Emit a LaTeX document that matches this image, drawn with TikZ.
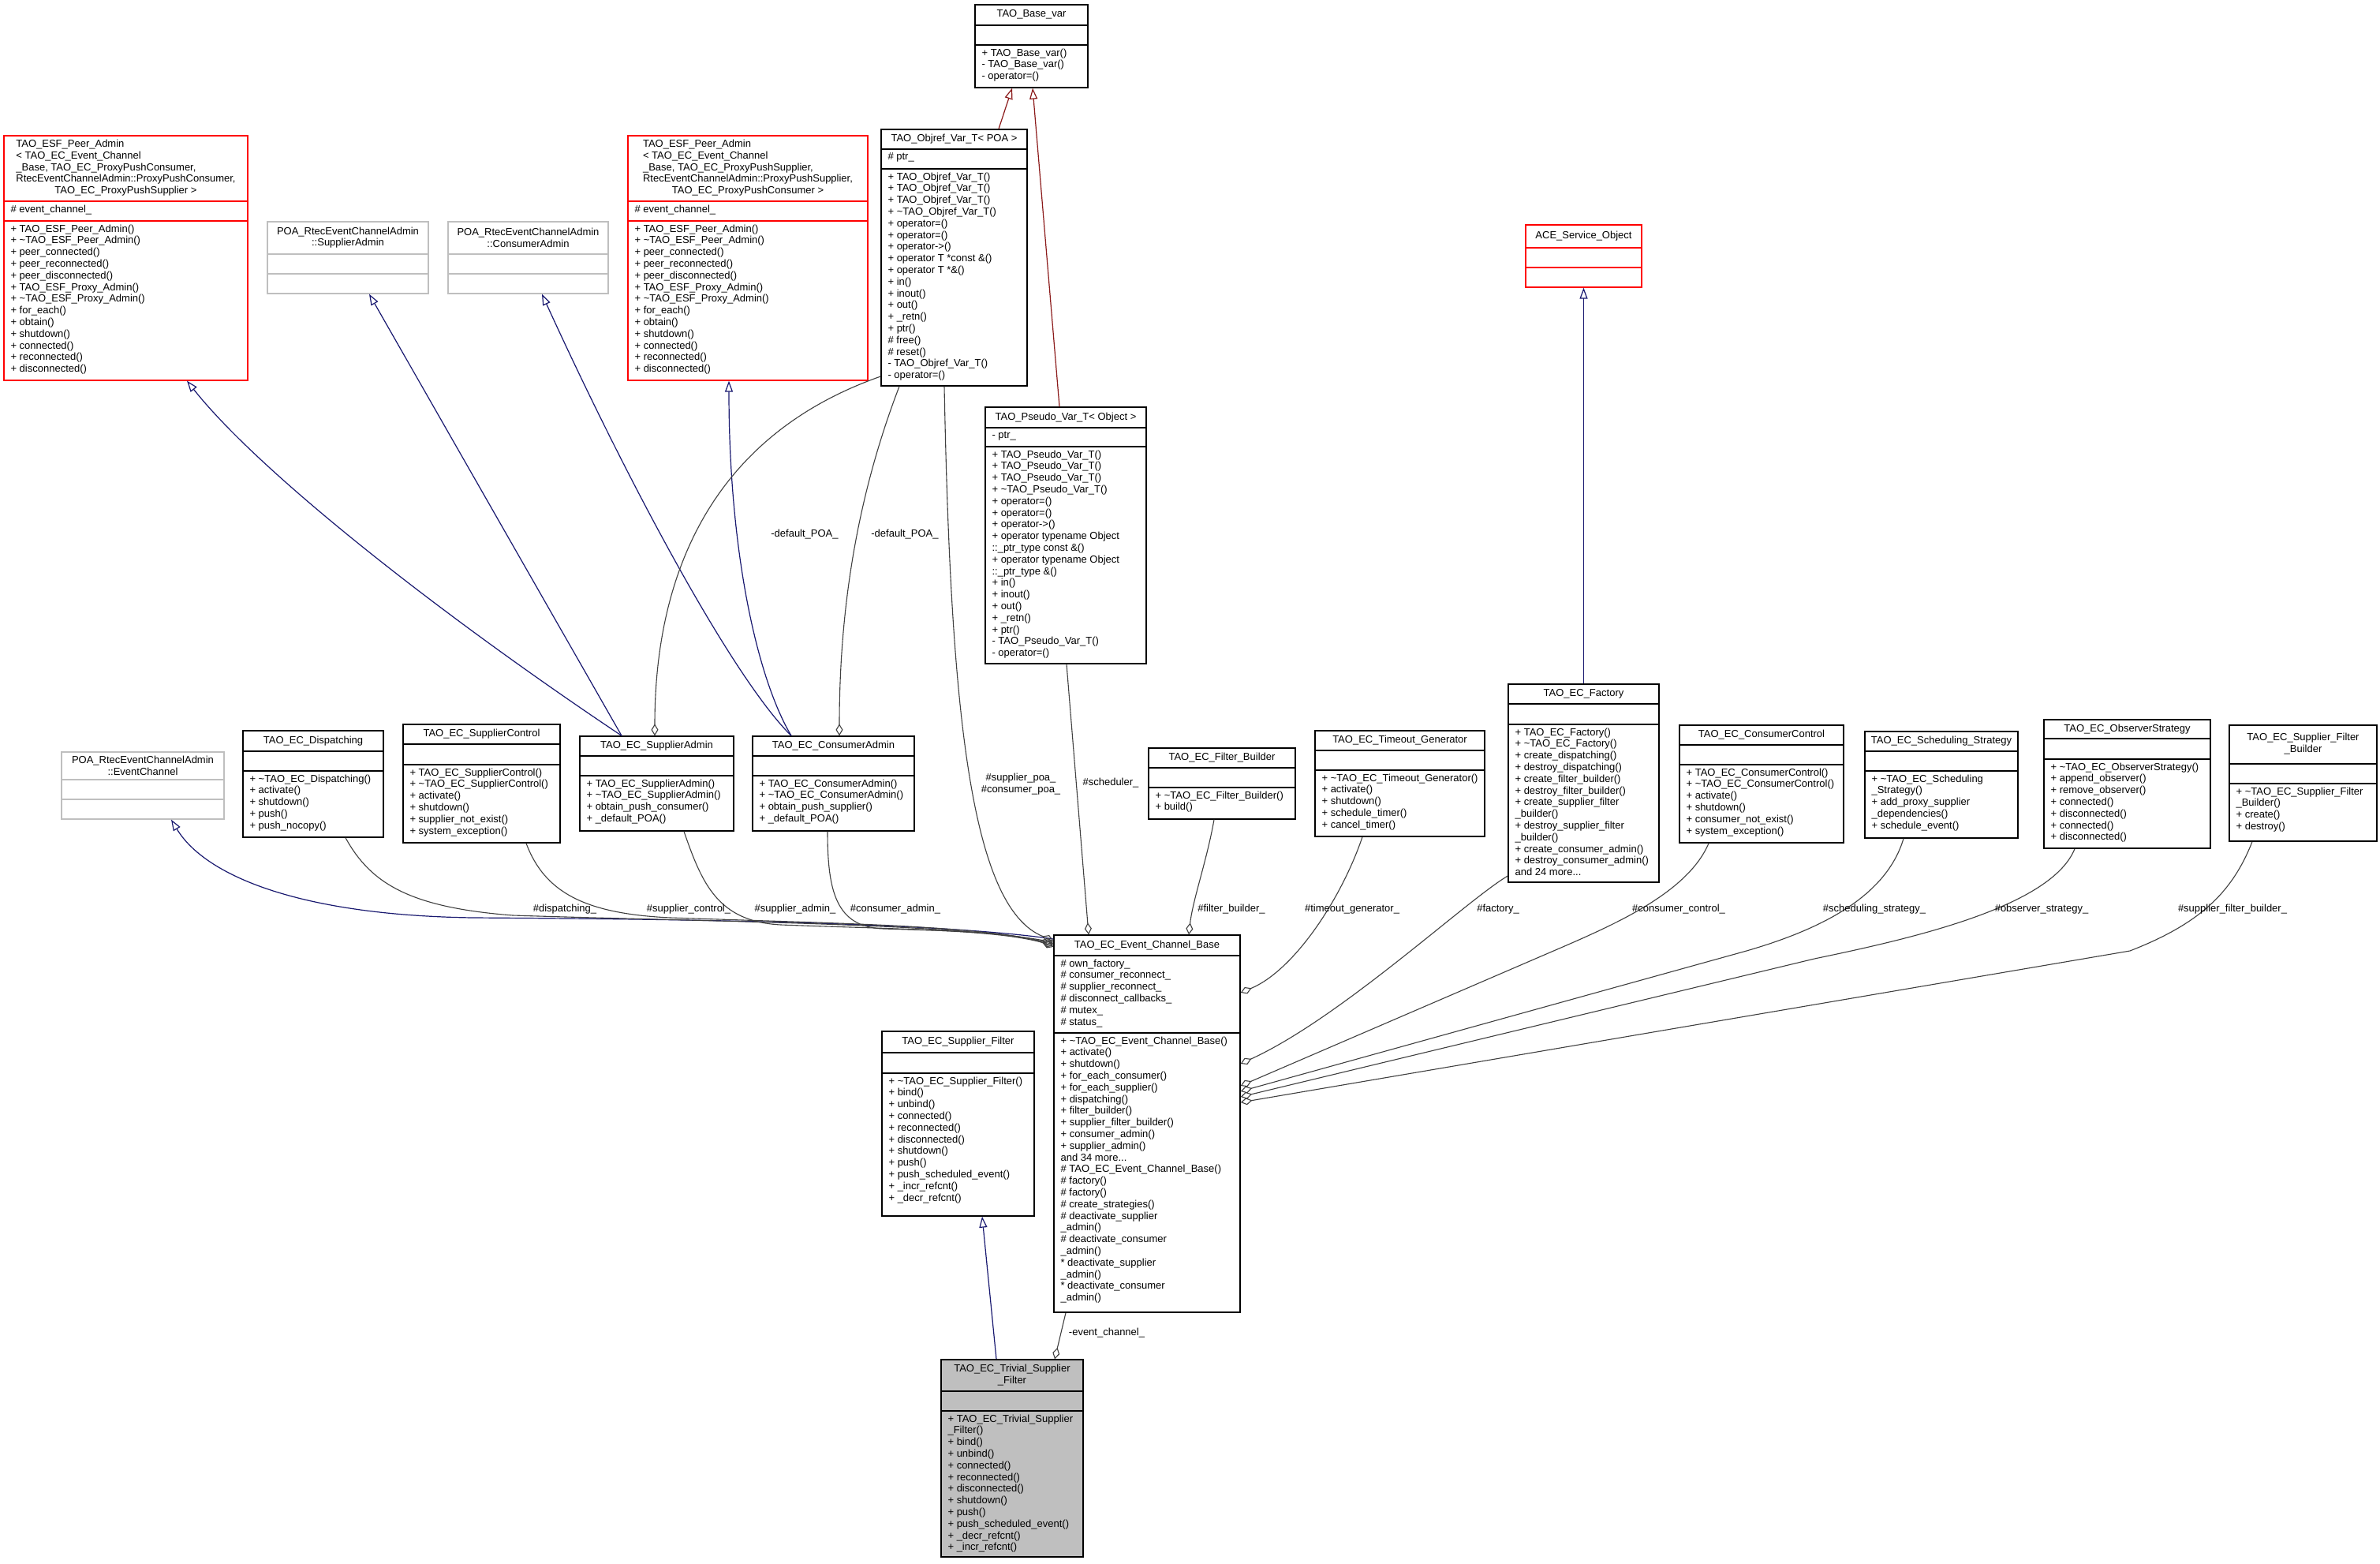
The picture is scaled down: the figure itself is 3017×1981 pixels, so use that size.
\documentclass[tikz,border=0pt]{standalone}
\usepackage{fontspec}
\setmainfont{Liberation Sans}
\usetikzlibrary{arrows.meta,fit,calc}
\definecolor{inhblue}{RGB}{25,25,112}
\definecolor{inhred}{RGB}{139,26,26}
\definecolor{usegray}{RGB}{64,64,64}
\definecolor{boxgray}{RGB}{191,191,191}
\newcommand{\tld}{\textasciitilde}
\newcommand{\umlclass}[6]{%
  \node[#2,fit={(#3) (#4)}] (#1) {};
  \coordinate (#1-h) at (0,#5);
  \coordinate (#1-a) at (0,#6);
  \draw[#2,fill=none] (#1.west |- #1-h) -- (#1.east |- #1-h)
    (#1.west |- #1-a) -- (#1.east |- #1-a);}
\newcommand{\umltext}[4]{%
  \node[hdr] (#1-t) at ($(#1.north)!.5!(#1.north |- #1-h)$) {#2};
  \node[memb] (#1-m) at (#1.west |- #1-h) {#3};
  \node[memb] (#1-f) at (#1.west |- #1-a) {#4};}
\newcommand{\esfops}{+ TAO\_ESF\_Peer\_Admin()\\+ \tld TAO\_ESF\_Peer\_Admin()\\+ peer\_connected()\\+ peer\_reconnected()\\+ peer\_disconnected()\\+ TAO\_ESF\_Proxy\_Admin()\\+ \tld TAO\_ESF\_Proxy\_Admin()\\+ for\_each()\\+ obtain()\\+ shutdown()\\+ connected()\\+ reconnected()\\+ disconnected()}
\tikzset{
  cls/.style={draw=black,line width=1.3pt,inner sep=0pt,rectangle},
  clsred/.style={cls,draw=red},
  clsgray/.style={cls,draw=boxgray},
  clsmain/.style={cls,fill=boxgray},
  hdr/.style={align=center,inner sep=0pt,font=\fontsize{13}{14.8}\selectfont},
  memb/.style={anchor=north west,align=left,inner xsep=9pt,inner ysep=4.5pt,font=\fontsize{13}{14.8}\selectfont},
  lbl/.style={inner sep=1pt,align=center,font=\fontsize{13}{14.8}\selectfont},
  inh/.style={draw=inhblue,line width=1.2pt,-{Triangle[open,length=14pt,width=10pt]}},
  inhr/.style={inh,draw=inhred},
  uses/.style={draw=usegray,line width=1.1pt,-{Diamond[open,length=15pt,width=9pt]}}
}
\begin{document}
\begin{tikzpicture}[x=1pt,y=-1pt]
  \fill[white] (0,0) rectangle (3017,1981);
  \useasboundingbox (0,0) rectangle (3017,1981);

  \umlclass{basevar}{cls}{1236,6}{1379,111}{32}{57}
  \umltext{basevar}{TAO\_Base\_var}{}{+ TAO\_Base\_var()\\- TAO\_Base\_var()\\- operator=()}

  \umlclass{objref}{cls}{1117,164}{1302,489}{189}{214}
  \umltext{objref}{TAO\_Objref\_Var\_T< POA >}{\# ptr\_}{+ TAO\_Objref\_Var\_T()\\+ TAO\_Objref\_Var\_T()\\+ TAO\_Objref\_Var\_T()\\+ \tld TAO\_Objref\_Var\_T()\\+ operator=()\\+ operator=()\\+ operator->()\\+ operator T *const \&()\\+ operator T *\&()\\+ in()\\+ inout()\\+ out()\\+ \_retn()\\+ ptr()\\\# free()\\\# reset()\\- TAO\_Objref\_Var\_T()\\- operator=()}

  \umlclass{pseudo}{cls}{1249,516}{1453,841}{542}{566}
  \umltext{pseudo}{TAO\_Pseudo\_Var\_T< Object >}{- ptr\_}{+ TAO\_Pseudo\_Var\_T()\\+ TAO\_Pseudo\_Var\_T()\\+ TAO\_Pseudo\_Var\_T()\\+ \tld TAO\_Pseudo\_Var\_T()\\+ operator=()\\+ operator=()\\+ operator->()\\+ operator typename Object\\::\_ptr\_type const \&()\\+ operator typename Object\\::\_ptr\_type \&()\\+ in()\\+ inout()\\+ out()\\+ \_retn()\\+ ptr()\\- TAO\_Pseudo\_Var\_T()\\- operator=()}

  \umlclass{esf1}{clsred}{5,172}{314,482}{255}{280}
  \umltext{esf1}{\begin{tabular}{@{}l@{}}TAO\_ESF\_Peer\_Admin\\< TAO\_EC\_Event\_Channel\\\_Base, TAO\_EC\_ProxyPushConsumer,\\RtecEventChannelAdmin::ProxyPushConsumer,\\\multicolumn{1}{@{}c@{}}{TAO\_EC\_ProxyPushSupplier >}\end{tabular}}{\# event\_channel\_}{\esfops}

  \umlclass{esf2}{clsred}{796,172}{1100,482}{255}{280}
  \umltext{esf2}{\begin{tabular}{@{}l@{}}TAO\_ESF\_Peer\_Admin\\< TAO\_EC\_Event\_Channel\\\_Base, TAO\_EC\_ProxyPushSupplier,\\RtecEventChannelAdmin::ProxyPushSupplier,\\\multicolumn{1}{@{}c@{}}{TAO\_EC\_ProxyPushConsumer >}\end{tabular}}{\# event\_channel\_}{\esfops}

  \umlclass{poasa}{clsgray}{339,281}{543,372}{322}{347}
  \umltext{poasa}{POA\_RtecEventChannelAdmin\\::SupplierAdmin}{}{}

  \umlclass{poaca}{clsgray}{568,281}{771,372}{322}{347}
  \umltext{poaca}{POA\_RtecEventChannelAdmin\\::ConsumerAdmin}{}{}

  \umlclass{ace}{clsred}{1934,285}{2081,364}{314}{339}
  \umltext{ace}{ACE\_Service\_Object}{}{}

  \umlclass{poaec}{clsgray}{78,953}{284,1038}{988}{1013}
  \umltext{poaec}{POA\_RtecEventChannelAdmin\\::EventChannel}{}{}

  \umlclass{disp}{cls}{308,926}{486,1061}{952}{977}
  \umltext{disp}{TAO\_EC\_Dispatching}{}{+ \tld TAO\_EC\_Dispatching()\\+ activate()\\+ shutdown()\\+ push()\\+ push\_nocopy()}

  \umlclass{supctl}{cls}{511,918}{710,1068}{943}{969}
  \umltext{supctl}{TAO\_EC\_SupplierControl}{}{+ TAO\_EC\_SupplierControl()\\+ \tld TAO\_EC\_SupplierControl()\\+ activate()\\+ shutdown()\\+ supplier\_not\_exist()\\+ system\_exception()}

  \umlclass{supadm}{cls}{735,933}{930,1053}{958}{983}
  \umltext{supadm}{TAO\_EC\_SupplierAdmin}{}{+ TAO\_EC\_SupplierAdmin()\\+ \tld TAO\_EC\_SupplierAdmin()\\+ obtain\_push\_consumer()\\+ \_default\_POA()}

  \umlclass{conadm}{cls}{954,933}{1159,1053}{958}{983}
  \umltext{conadm}{TAO\_EC\_ConsumerAdmin}{}{+ TAO\_EC\_ConsumerAdmin()\\+ \tld TAO\_EC\_ConsumerAdmin()\\+ obtain\_push\_supplier()\\+ \_default\_POA()}

  \umlclass{fbuild}{cls}{1456,948}{1642,1038}{973}{998}
  \umltext{fbuild}{TAO\_EC\_Filter\_Builder}{}{+ \tld TAO\_EC\_Filter\_Builder()\\+ build()}

  \umlclass{tgen}{cls}{1667,926}{1882,1060}{951}{976}
  \umltext{tgen}{TAO\_EC\_Timeout\_Generator}{}{+ \tld TAO\_EC\_Timeout\_Generator()\\+ activate()\\+ shutdown()\\+ schedule\_timer()\\+ cancel\_timer()}

  \umlclass{factory}{cls}{1912,867}{2103,1118}{892}{918}
  \umltext{factory}{TAO\_EC\_Factory}{}{+ TAO\_EC\_Factory()\\+ \tld TAO\_EC\_Factory()\\+ create\_dispatching()\\+ destroy\_dispatching()\\+ create\_filter\_builder()\\+ destroy\_filter\_builder()\\+ create\_supplier\_filter\\\_builder()\\+ destroy\_supplier\_filter\\\_builder()\\+ create\_consumer\_admin()\\+ destroy\_consumer\_admin()\\and 24 more...}

  \umlclass{cctl}{cls}{2129,919}{2337,1068}{944}{969}
  \umltext{cctl}{TAO\_EC\_ConsumerControl}{}{+ TAO\_EC\_ConsumerControl()\\+ \tld TAO\_EC\_ConsumerControl()\\+ activate()\\+ shutdown()\\+ consumer\_not\_exist()\\+ system\_exception()}

  \umlclass{sstrat}{cls}{2364,927}{2558,1062}{952}{977}
  \umltext{sstrat}{TAO\_EC\_Scheduling\_Strategy}{}{+ \tld TAO\_EC\_Scheduling\\\_Strategy()\\+ add\_proxy\_supplier\\\_dependencies()\\+ schedule\_event()}

  \umlclass{ostrat}{cls}{2591,912}{2802,1075}{936}{962}
  \umltext{ostrat}{TAO\_EC\_ObserverStrategy}{}{+ \tld TAO\_EC\_ObserverStrategy()\\+ append\_observer()\\+ remove\_observer()\\+ connected()\\+ disconnected()\\+ connected()\\+ disconnected()}

  \umlclass{sfbuild}{cls}{2826,919}{3013,1066}{968}{993}
  \umltext{sfbuild}{\begin{tabular}{@{}l@{}}TAO\_EC\_Supplier\_Filter\\\multicolumn{1}{@{}c@{}}{\_Builder}\end{tabular}}{}{+ \tld TAO\_EC\_Supplier\_Filter\\\_Builder()\\+ create()\\+ destroy()}

  \umlclass{ecb}{cls}{1336,1185}{1572,1663}{1211}{1309}
  \umltext{ecb}{TAO\_EC\_Event\_Channel\_Base}{\# own\_factory\_\\\# consumer\_reconnect\_\\\# supplier\_reconnect\_\\\# disconnect\_callbacks\_\\\# mutex\_\\\# status\_}{+ \tld TAO\_EC\_Event\_Channel\_Base()\\+ activate()\\+ shutdown()\\+ for\_each\_consumer()\\+ for\_each\_supplier()\\+ dispatching()\\+ filter\_builder()\\+ supplier\_filter\_builder()\\+ consumer\_admin()\\+ supplier\_admin()\\and 34 more...\\\# TAO\_EC\_Event\_Channel\_Base()\\\# factory()\\\# factory()\\\# create\_strategies()\\\# deactivate\_supplier\\\_admin()\\\# deactivate\_consumer\\\_admin()\\{}* deactivate\_supplier\\\_admin()\\{}* deactivate\_consumer\\\_admin()}

  \umlclass{sfilter}{cls}{1118,1307}{1311,1541}{1334}{1360}
  \umltext{sfilter}{TAO\_EC\_Supplier\_Filter}{}{+ \tld TAO\_EC\_Supplier\_Filter()\\+ bind()\\+ unbind()\\+ connected()\\+ reconnected()\\+ disconnected()\\+ shutdown()\\+ push()\\+ push\_scheduled\_event()\\+ \_incr\_refcnt()\\+ \_decr\_refcnt()}

  \umlclass{trivial}{clsmain}{1193,1723}{1373,1973}{1763}{1788}
  \umltext{trivial}{TAO\_EC\_Trivial\_Supplier\\\_Filter}{}{+ TAO\_EC\_Trivial\_Supplier\\\_Filter()\\+ bind()\\+ unbind()\\+ connected()\\+ reconnected()\\+ disconnected()\\+ shutdown()\\+ push()\\+ push\_scheduled\_event()\\+ \_decr\_refcnt()\\+ \_incr\_refcnt()}

  % inheritance
  \draw[inhr] (objref.north -| 1266,0) -- (basevar.south -| 1283,0);
  \draw[inhr] (pseudo.north -| 1343,0) -- (basevar.south -| 1309,0);
  \draw[inh] (factory.north) -- (ace.south);
  \draw[inh] (trivial.north -| 1263,0) -- (sfilter.south -| 1245,0);
  \draw[inh] (supadm.north -| 788,0) .. controls (560,780) and (330,600) .. (esf1.south -| 237,0);
  \draw[inh] (supadm.north -| 788,0) -- (poasa.south -| 468,0);
  \draw[inh] (conadm.north -| 1003,0) .. controls (930,860) and (800,620) .. (poaca.south -| 687,0);
  \draw[inh] (conadm.north -| 1003,0) .. controls (960,860) and (924,700) .. (esf2.south -| 924,0);
  \draw[inh] (ecb.west |- 0,1190) .. controls (1200,1170) and (900,1165) .. (600,1163)
    .. controls (380,1160) and (260,1110) .. (poaec.south -| 217,0);

  % members
  \draw[uses] (objref.west |- 0,477) .. controls (880,560) and (830,760) .. (supadm.north -| 830,0);
  \draw[uses] (objref.south -| 1140,0) .. controls (1090,620) and (1064,760) .. (conadm.north -| 1064,0);
  \draw[uses] (objref.south -| 1197,0) .. controls (1205,900) and (1230,1150) .. (ecb.west |- 0,1192);
  \draw[uses] (pseudo.south -| 1352,0) -- (ecb.north -| 1380,0);
  \draw[uses] (disp.south -| 438,0) .. controls (470,1120) and (520,1150) .. (650,1160)
    .. controls (900,1168) and (1200,1170) .. (ecb.west |- 0,1194);
  \draw[uses] (supctl.south -| 667,0) .. controls (690,1130) and (740,1158) .. (850,1163)
    .. controls (1050,1170) and (1230,1172) .. (ecb.west |- 0,1196);
  \draw[uses] (supadm.south -| 867,0) .. controls (890,1120) and (910,1168) .. (990,1172)
    .. controls (1150,1178) and (1260,1178) .. (ecb.west |- 0,1198);
  \draw[uses] (conadm.south -| 1049,0) .. controls (1049,1130) and (1060,1175) .. (1120,1177)
    .. controls (1220,1180) and (1290,1182) .. (ecb.west |- 0,1200);
  \draw[uses] (fbuild.south -| 1539,0) .. controls (1530,1090) and (1512,1140) .. (ecb.north -| 1507,0);
  \draw[uses] (tgen.south -| 1727,0) .. controls (1700,1140) and (1640,1230) .. (ecb.east |- 0,1258);
  \draw[uses] (factory.west |- 0,1110) .. controls (1860,1140) and (1700,1290) .. (ecb.east |- 0,1348);
  \draw[uses] (cctl.south -| 2166,0) .. controls (2140,1130) and (2050,1170) .. (1981,1200) -- (ecb.east |- 0,1376);
  \draw[uses] (sstrat.south -| 2413,0) .. controls (2390,1140) and (2300,1180) .. (2214,1205) -- (ecb.east |- 0,1383);
  \draw[uses] (ostrat.south -| 2630,0) .. controls (2600,1150) and (2420,1190) .. (2300,1215) -- (ecb.east |- 0,1390);
  \draw[uses] (sfbuild.south -| 2855,0) .. controls (2830,1130) and (2790,1170) .. (2700,1205) -- (ecb.east |- 0,1397);
  \draw[uses] (ecb.south -| 1351,0) -- (trivial.north -| 1337,0);

  % labels
  \node[lbl] (ldef1) at (1020,677) {-default\_POA\_};
  \node[lbl] (ldef2) at (1147,677) {-default\_POA\_};
  \node[lbl] (lpoa) at (1294,994) {\#supplier\_poa\_\\\#consumer\_poa\_};
  \node[lbl] (lsched) at (1408,992) {\#scheduler\_};
  \node[lbl] (ldisp) at (716,1152) {\#dispatching\_};
  \node[lbl] (lsupctl) at (873,1152) {\#supplier\_control\_};
  \node[lbl] (lsupadm) at (1008,1152) {\#supplier\_admin\_};
  \node[lbl] (lconadm) at (1135,1152) {\#consumer\_admin\_};
  \node[lbl] (lfbuild) at (1561,1152) {\#filter\_builder\_};
  \node[lbl] (ltgen) at (1714,1152) {\#timeout\_generator\_};
  \node[lbl] (lfact) at (1899,1152) {\#factory\_};
  \node[lbl] (lcctl) at (2128,1152) {\#consumer\_control\_};
  \node[lbl] (lsstrat) at (2376,1152) {\#scheduling\_strategy\_};
  \node[lbl] (lostrat) at (2588,1152) {\#observer\_strategy\_};
  \node[lbl] (lsfbuild) at (2830,1152) {\#supplier\_filter\_builder\_};
  \node[lbl] (levent) at (1403,1689) {-event\_channel\_};
\end{tikzpicture}
\end{document}
